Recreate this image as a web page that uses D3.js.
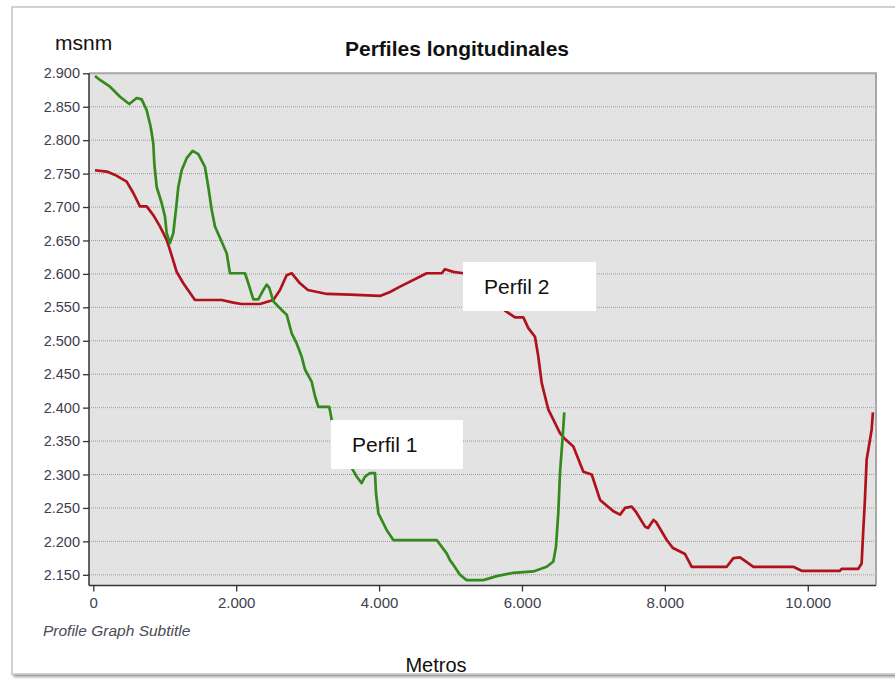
<!DOCTYPE html>
<html>
<head>
<meta charset="utf-8">
<script src="https://cdn.jsdelivr.net/npm/d3@7"></script>
<style>
  html, body { margin: 0; padding: 0; background: #ffffff; }
  svg { display: block; font-family: "Liberation Sans", Arial, sans-serif; }
</style>
</head>
<body>
<svg id="chart" width="895" height="679"></svg>
<script>
// Longitudinal profiles: distance along the profile (m) and elevation (msnm)
const perfil1Dist = [24, 94, 234, 374, 504, 607, 677, 747, 803, 840, 854, 887, 957, 1003, 1027, 1073, 1120, 1157, 1190, 1237, 1307, 1391, 1470, 1563, 1610, 1657, 1703, 1797, 1867, 1913, 2123, 2170, 2240, 2310, 2380, 2427, 2464, 2520, 2637, 2707, 2777, 2847, 2917, 2963, 3056, 3103, 3150, 3303, 3337, 3450, 3550, 3616, 3686, 3756, 3803, 3873, 3943, 3957, 3990, 4036, 4106, 4199, 4806, 4946, 4992, 5039, 5132, 5226, 5459, 5646, 5879, 6159, 6346, 6439, 6476, 6508, 6532, 6570, 6592];
const perfil1Elev = [2896, 2890, 2880, 2865, 2854, 2863, 2861, 2845, 2820, 2795, 2765, 2730, 2706, 2686, 2661, 2646, 2661, 2696, 2730, 2755, 2773, 2784, 2779, 2760, 2730, 2696, 2671, 2648, 2631, 2601, 2601, 2586, 2562, 2562, 2576, 2584, 2579, 2559, 2546, 2539, 2511, 2496, 2476, 2457, 2439, 2417, 2401, 2401, 2382, 2350, 2322, 2310, 2297, 2287, 2297, 2302, 2302, 2272, 2242, 2232, 2217, 2202, 2202, 2182, 2172, 2165, 2150, 2142, 2142, 2148, 2153, 2155, 2162, 2170, 2192, 2242, 2302, 2357, 2393];

const perfil2Dist = [24, 190, 305, 467, 560, 653, 747, 840, 933, 1027, 1073, 1167, 1260, 1423, 1797, 1960, 2077, 2333, 2520, 2613, 2706, 2776, 2893, 3003, 3271, 3593, 4013, 4153, 4293, 4667, 4877, 4923, 5039, 5179, 5400, 5600, 5762, 5902, 6019, 6089, 6182, 6229, 6276, 6322, 6369, 6439, 6532, 6602, 6719, 6859, 6976, 7093, 7280, 7373, 7443, 7536, 7596, 7723, 7765, 7840, 7877, 8026, 8114, 8282, 8376, 8866, 8959, 9052, 9239, 9797, 9914, 10450, 10474, 10707, 10754, 10777, 10800, 10824, 10894, 10912];
const perfil2Elev = [2755, 2753, 2748, 2738, 2721, 2701, 2701, 2688, 2671, 2651, 2636, 2603, 2586, 2561, 2561, 2557, 2555, 2555, 2561, 2576, 2598, 2601, 2586, 2576, 2570, 2569, 2567, 2573, 2581, 2601, 2601, 2607, 2603, 2601, 2590, 2565, 2545, 2535, 2535, 2519, 2506, 2476, 2437, 2417, 2397, 2382, 2362, 2353, 2342, 2304, 2300, 2262, 2245, 2240, 2250, 2252, 2244, 2222, 2220, 2232, 2229, 2202, 2190, 2181, 2162, 2162, 2175, 2176, 2162, 2162, 2156, 2156, 2159, 2159, 2167, 2217, 2262, 2322, 2367, 2393];

const yTickValues = [2150, 2200, 2250, 2300, 2350, 2400, 2450, 2500, 2550, 2600, 2650, 2700, 2750, 2800, 2850, 2900];
const xTickValues = [0, 2000, 4000, 6000, 8000, 10000];

const chartTitle = "Perfiles longitudinales";
const subtitle = "Profile Graph Subtitle";
const yTitle = "msnm";
const xTitle = "Metros";
const seriesLabels = ["Perfil 1", "Perfil 2"];

const svg = d3.select("#chart");

// Spanish-style number grouping: 2.900, 10.000
const esLocale = d3.formatLocale({ decimal: ",", thousands: ".", grouping: [3], currency: ["", ""] });
const fmt = esLocale.format(",");

const plot = { left: 89, right: 876, top: 73.3, bottom: 585.5 };

const x = d3.scaleLinear().domain([-60, 10955]).range([plot.left, plot.right]);
const y = d3.scaleLinear().domain([2134, 2900]).range([plot.bottom, plot.top]);

// Panel frame with a soft shadow
const defs = svg.append("defs");
const sh = defs.append("filter").attr("id", "shadow").attr("x", "-5%").attr("y", "-5%").attr("width", "110%").attr("height", "110%");
sh.append("feGaussianBlur").attr("in", "SourceAlpha").attr("stdDeviation", 1.6);
sh.append("feOffset").attr("dx", 1.5).attr("dy", 2).attr("result", "off");
sh.append("feComponentTransfer").append("feFuncA").attr("type", "linear").attr("slope", 0.45);
const mg = sh.append("feMerge");
mg.append("feMergeNode");
mg.append("feMergeNode").attr("in", "SourceGraphic");

svg.append("rect")
  .attr("x", 12).attr("y", 7).attr("width", 900).attr("height", 667)
  .attr("fill", "#ffffff").attr("stroke", "#c4c4c4").attr("stroke-width", 1.5)
  .attr("filter", "url(#shadow)");

// Plot background
svg.append("rect")
  .attr("x", plot.left).attr("y", plot.top)
  .attr("width", plot.right - plot.left).attr("height", plot.bottom - plot.top)
  .attr("fill", "#e3e3e3");

// Dotted horizontal gridlines
svg.append("g").selectAll("line")
  .data(yTickValues)
  .join("line")
  .attr("x1", plot.left).attr("x2", plot.right)
  .attr("y1", d => y(d)).attr("y2", d => y(d))
  .attr("stroke", "#9c9c9c").attr("stroke-width", 1)
  .attr("stroke-dasharray", "1,1");

// Top and right border of the plot area
svg.append("path")
  .attr("d", `M${plot.left},${plot.top}H${plot.right}V${plot.bottom}`)
  .attr("fill", "none").attr("stroke", "#a8a8a8").attr("stroke-width", 2);

// Axes
const tickColor = "#3e3e4e";
const yAxis = d3.axisLeft(y).tickValues(yTickValues).tickFormat(fmt).tickSize(6).tickPadding(3);
const gy = svg.append("g").attr("transform", `translate(${plot.left},0)`).call(yAxis);
gy.select(".domain").attr("d", `M0,${plot.top}V${plot.bottom}`).attr("stroke", "#333").attr("stroke-width", 1.5);
gy.selectAll(".tick line").attr("stroke", "#333").attr("stroke-width", 1.3);
gy.selectAll(".tick text").attr("fill", tickColor).style("font-size", "14.5px").style("font-family", "'Liberation Sans', Arial, sans-serif");

const xAxis = d3.axisBottom(x).tickValues(xTickValues).tickFormat(fmt).tickSize(6).tickPadding(6);
const gx = svg.append("g").attr("transform", `translate(0,${plot.bottom})`).call(xAxis);
gx.select(".domain").attr("d", `M${plot.left},0H${plot.right}`).attr("stroke", "#333").attr("stroke-width", 1.5);
gx.selectAll(".tick line").attr("stroke", "#333").attr("stroke-width", 1.3);
gx.selectAll(".tick text").attr("fill", tickColor).style("font-size", "15px").style("font-family", "'Liberation Sans', Arial, sans-serif");

// Profile lines
const line = d3.line().x(d => x(d[0])).y(d => y(d[1]));
const p1 = perfil1Dist.map((d, i) => [d, perfil1Elev[i]]);
const p2 = perfil2Dist.map((d, i) => [d, perfil2Elev[i]]);

svg.append("path").datum(p2).attr("d", line)
  .attr("fill", "none").attr("stroke", "#b0121c").attr("stroke-width", 2.7)
  .attr("stroke-linejoin", "round");
svg.append("path").datum(p1).attr("d", line)
  .attr("fill", "none").attr("stroke", "#348a1c").attr("stroke-width", 2.7)
  .attr("stroke-linejoin", "round");

// Series label boxes
const boxes = [
  { label: seriesLabels[0], bx: 331, by: 420, bw: 132, bh: 49, tx: 352, ty: 452 },
  { label: seriesLabels[1], bx: 463, by: 262, bw: 133, bh: 49, tx: 484, ty: 294 }
];
const gb = svg.append("g").selectAll("g").data(boxes).join("g");
gb.append("rect").attr("x", d => d.bx).attr("y", d => d.by)
  .attr("width", d => d.bw).attr("height", d => d.bh).attr("fill", "#ffffff");
gb.append("text").attr("x", d => d.tx).attr("y", d => d.ty)
  .attr("fill", "#111").style("font-size", "21px").text(d => d.label);

// Titles
svg.append("text").attr("x", 457).attr("y", 56).attr("text-anchor", "middle")
  .attr("fill", "#111").style("font-size", "21px").style("font-weight", "bold").text(chartTitle);
svg.append("text").attr("x", 55).attr("y", 50)
  .attr("fill", "#111").style("font-size", "21px").text(yTitle);
svg.append("text").attr("x", 436).attr("y", 672).attr("text-anchor", "middle")
  .attr("fill", "#111").style("font-size", "20px").text(xTitle);
svg.append("text").attr("x", 43).attr("y", 636)
  .attr("fill", "#4a4a55").style("font-size", "15.5px").style("font-style", "italic").text(subtitle);
</script>
</body>
</html>
